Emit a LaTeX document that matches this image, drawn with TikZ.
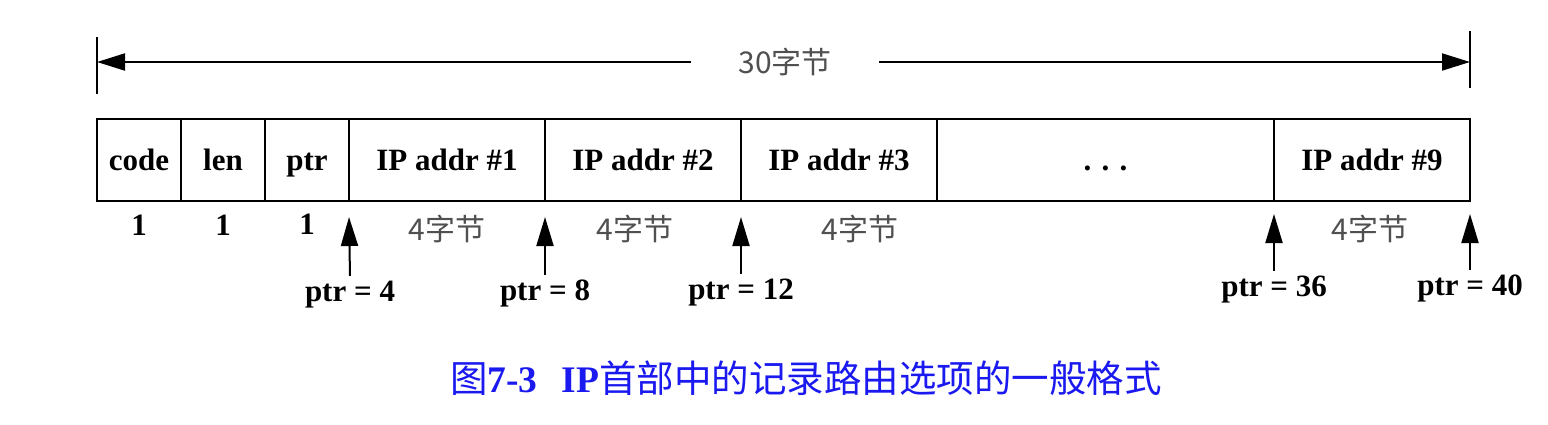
\documentclass[tikz,border=0pt]{standalone}
\usepackage{fontspec}
\setmainfont{Liberation Serif}
\newfontfamily\cjk{Noto Sans CJK SC}
\usetikzlibrary{arrows.meta}
\definecolor{capblue}{RGB}{25,25,240}
\definecolor{cjkgray}{RGB}{80,80,80}
\begin{document}
\begin{tikzpicture}[x=1pt,y=-1pt,
  field/.style={draw,line width=2pt,minimum height=82pt,inner sep=0pt,outer sep=0pt,
    anchor=north west,text height=24pt,text depth=4pt,font=\fontsize{31}{33}\selectfont\bfseries},
  numlbl/.style={inner sep=0pt,text height=21pt,text depth=0pt,font=\fontsize{31}{33}\selectfont\bfseries},
  bytelbl/.style={inner sep=0pt,text=cjkgray,font=\fontsize{30}{32}\selectfont\cjk},
  ptrlbl/.style={inner sep=0pt,text height=21pt,text depth=7pt,font=\fontsize{31}{33}\selectfont\bfseries},
  ptrarrow/.style={line width=2pt,-{Triangle[length=29pt,width=17pt]}},
  dimarrow/.style={line width=2pt,-{Triangle[length=28pt,width=17pt]}},
  tick/.style={line width=2pt}]
\useasboundingbox (0,0) rectangle (1548,424);
\fill[white] (0,0) rectangle (1548,424);

% dimension line
\coordinate (dl) at (97,62);
\coordinate (dr) at (1470,62);
\coordinate (tlt) at (97,37);
\coordinate (tlb) at (97,94);
\coordinate (trt) at (1470,31);
\coordinate (trb) at (1470,88);
\draw[tick] (tlt) -- (tlb);
\draw[tick] (trt) -- (trb);
\node[inner xsep=47pt,inner ysep=2pt,text=cjkgray,font=\fontsize{30}{32}\selectfont\cjk] (dim) at (785,62) {30字节};
\draw[dimarrow] (dim.west) -- (dl);
\draw[dimarrow] (dim.east) -- (dr);

% fields
\node[field,minimum width=84pt] (code) at (97,119) {code};
\node[field,minimum width=84pt] (len) at (181,119) {len};
\node[field,minimum width=84pt] (ptr) at (265,119) {ptr};
\node[field,minimum width=196pt] (a1) at (349,119) {IP addr \#1};
\node[field,minimum width=196pt] (a2) at (545,119) {IP addr \#2};
\node[field,minimum width=196pt] (a3) at (741,119) {IP addr \#3};
\node[field,minimum width=337pt] (dots) at (937,119) {. . .};
\node[field,minimum width=196pt] (a9) at (1274,119) {IP addr \#9};

% size labels
\node[numlbl] (n1) at (139,225) {1};
\node[numlbl] (n2) at (223,225) {1};
\node[numlbl] (n3) at (307,224) {1};
\node[bytelbl] (b1) at (447,229) {4字节};
\node[bytelbl] (b2) at (635,229) {4字节};
\node[bytelbl] (b3) at (860,229) {4字节};
\node[bytelbl] (b9) at (1370,229) {4字节};

% pointer labels and arrows
\node[ptrlbl] (p4) at (350,294) {ptr = 4};
\node[ptrlbl] (p8) at (545,293) {ptr = 8};
\node[ptrlbl] (p12) at (741,292) {ptr = 12};
\node[ptrlbl] (p36) at (1274,289) {ptr = 36};
\node[ptrlbl] (p40) at (1470,288) {ptr = 40};
\draw[ptrarrow] ([yshift=4pt]p4.north) -- ([yshift=-16pt]a1.south west);
\draw[ptrarrow] ([yshift=4pt]p8.north) -- ([yshift=-16pt]a2.south west);
\draw[ptrarrow] ([yshift=4pt]p12.north) -- ([yshift=-16pt]a3.south west);
\draw[ptrarrow] ([yshift=4pt]p36.north) -- ([yshift=-13pt]a9.south west);
\draw[ptrarrow] ([yshift=4pt]p40.north) -- ([yshift=-13pt]a9.south east);

% caption
\node[inner sep=0pt,text=capblue,font=\fontsize{37.5}{40}\selectfont] (cap) at (806,378)
  {{\cjk 图}\textbf{7-3}\hspace{24pt}\textbf{IP}{\cjk 首部中的记录路由选项的一般格式}};
\end{tikzpicture}
\end{document}
